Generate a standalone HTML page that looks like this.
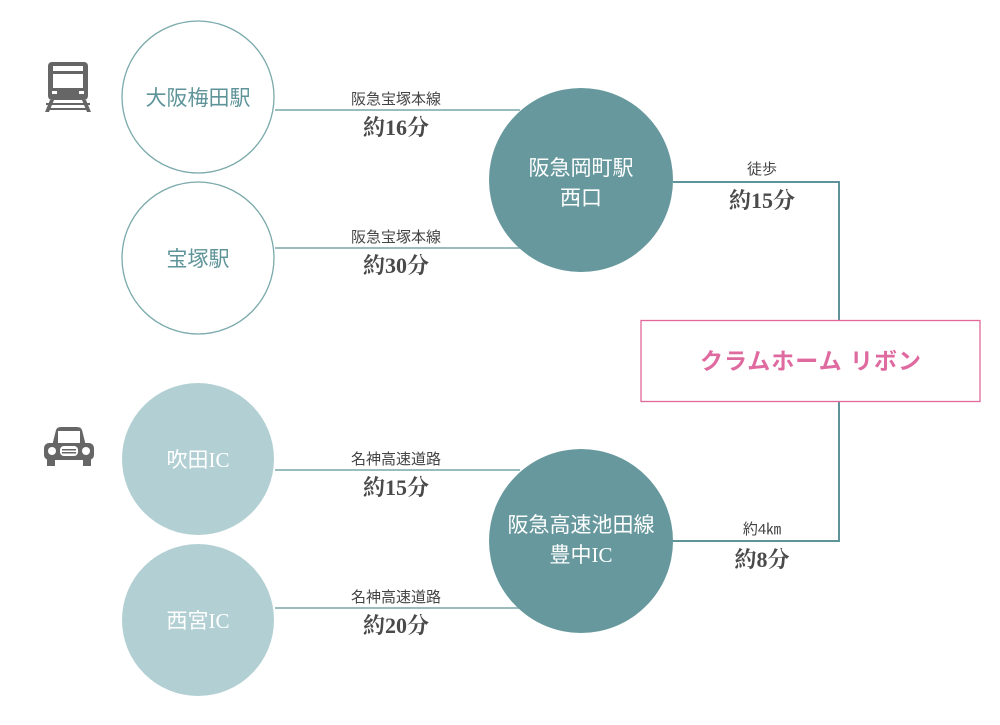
<!DOCTYPE html>
<html><head><meta charset="utf-8"><style>
html,body{margin:0;padding:0;background:#fff;width:1000px;height:725px;overflow:hidden}
svg text{font-family:"Liberation Sans","Noto Sans CJK JP",sans-serif}
.t{font-family:"Liberation Serif","Noto Serif CJK SC",serif;font-size:22px;font-weight:bold;fill:#4a4a4a;text-anchor:middle}
.s{font-size:15px;fill:#444;text-anchor:middle}
.c{font-size:21px;text-anchor:middle}
.ic{font-family:"Liberation Serif","Noto Sans CJK JP",serif}
</style></head><body>
<svg width="1000" height="725" viewBox="0 0 1000 725" xmlns="http://www.w3.org/2000/svg">
<g stroke="#78a6a8" stroke-width="1.5" fill="none">
<line x1="275" y1="110" x2="520" y2="110"/>
<line x1="275" y1="248" x2="520" y2="248"/>
<line x1="275" y1="470" x2="520" y2="470"/>
<line x1="275" y1="608" x2="520" y2="608"/>
</g>
<polyline points="673,182 839,182 839,320" stroke="#5e9499" stroke-width="2" fill="none"/>
<polyline points="673,541 839,541 839,401" stroke="#5e9499" stroke-width="2" fill="none"/>
<circle cx="198" cy="97" r="76" fill="#fff" stroke="#7aa9ab" stroke-width="1.3"/>
<circle cx="198" cy="258" r="76" fill="#fff" stroke="#7aa9ab" stroke-width="1.3"/>
<circle cx="198" cy="459" r="76" fill="#b2d0d3"/>
<circle cx="198" cy="620" r="76" fill="#b2d0d3"/>
<circle cx="581" cy="180" r="92" fill="#66989d"/>
<circle cx="581" cy="541" r="92" fill="#66989d"/>
<rect x="641" y="320.5" width="339" height="81" fill="#fff" stroke="#e0689a" stroke-width="1.3"/>
<text x="811" y="369" font-size="23" font-weight="bold" fill="#df6aa0" text-anchor="middle" letter-spacing="1">クラムホーム リボン</text>
<text class="c" x="198" y="105" fill="#5e9499">大阪梅田駅</text>
<text class="c" x="198" y="266" fill="#5e9499">宝塚駅</text>
<text class="c" x="198" y="467" fill="#fff">吹田<tspan class="ic">IC</tspan></text>
<text class="c" x="198" y="628" fill="#fff">西宮<tspan class="ic">IC</tspan></text>
<text class="c" x="581" y="175" fill="#fff">阪急岡町駅</text>
<text class="c" x="581" y="205" fill="#fff">西口</text>
<text class="c" x="581" y="532" fill="#fff">阪急高速池田線</text>
<text class="c" x="581" y="562" fill="#fff">豊中<tspan class="ic">IC</tspan></text>
<text class="s" x="396" y="104">阪急宝塚本線</text><text class="t" x="396" y="135">約16分</text>
<text class="s" x="396" y="242">阪急宝塚本線</text><text class="t" x="396" y="273">約30分</text>
<text class="s" x="396" y="464">名神高速道路</text><text class="t" x="396" y="495">約15分</text>
<text class="s" x="396" y="602">名神高速道路</text><text class="t" x="396" y="633">約20分</text>
<text class="s" x="762" y="174">徒歩</text><text class="t" x="762" y="208">約15分</text>
<text class="s" x="762" y="534">約4㎞</text><text class="t" x="762" y="567">約8分</text>
<g fill="#666">
<rect x="48" y="62" width="40" height="38" rx="4"/>
<rect x="53" y="66" width="30" height="5" fill="#fff"/>
<rect x="53" y="74" width="30" height="14" fill="#fff"/>
<rect x="52" y="91" width="5" height="3" fill="#fff"/><rect x="79" y="91" width="5" height="3" fill="#fff"/>
<rect x="46" y="103" width="44" height="2"/>
<polygon points="50,100 54,100 49,112 45,112"/><polygon points="82,100 86,100 91,112 87,112"/>
<rect x="48" y="108" width="40" height="2"/>
</g>
<g fill="#666">
<path d="M52,446 L56,430 Q57,427 61,427 L77,427 Q81,427 82,430 L86,446 Z"/>
<rect x="58" y="431" width="22" height="12" fill="#fff"/>
<rect x="44" y="443" width="50" height="17" rx="5"/>
<rect x="47" y="458" width="8" height="8"/><rect x="83" y="458" width="8" height="8"/>
<circle cx="52" cy="451" r="4" fill="#fff"/><circle cx="86" cy="451" r="4" fill="#fff"/>
<rect x="60" y="446" width="18" height="10" rx="4" fill="#fff"/>
<rect x="62" y="449" width="14" height="1.5"/><rect x="62" y="452" width="14" height="1.5"/>
</g>
</svg>
</body></html>
